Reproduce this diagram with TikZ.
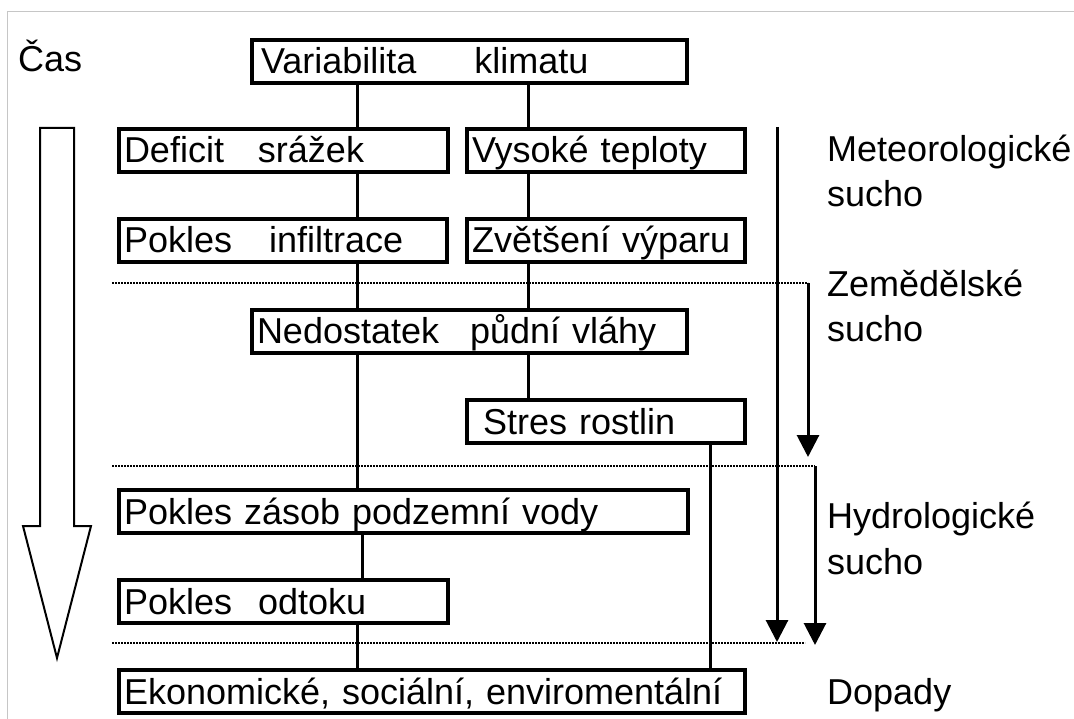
\documentclass[tikz,border=0pt]{standalone}
\usepackage{fontspec}
\setmainfont{Liberation Sans}
\usetikzlibrary{arrows.meta,positioning}
\newcommand{\bigtxt}{\fontsize{36}{45}\selectfont}
\tikzset{
  box/.style={draw,line width=4pt,anchor=west,align=left,inner xsep=5pt,inner ysep=0pt,
    minimum height=43pt,text height=25pt,text depth=0pt,font=\bigtxt},
  con/.style={line width=3pt},
  sep/.style={line width=2.2pt,dash pattern=on 1.6pt off 1.4pt},
  ar/.style={-{Triangle[length=22pt,width=22pt]},line width=3pt},
  lab/.style={anchor=base west,inner sep=0pt,font=\bigtxt}
}
\begin{document}
\begin{tikzpicture}[x=1pt,y=-1pt]
\useasboundingbox (0,0) rectangle (1074,719);
\draw[gray!45,line width=1.5pt] (1074,11.5) -- (7.5,11.5) -- (7.5,719);
% boxes
\node[box,text width=425pt] (var) at (250,61.5) {\hspace*{4pt}Variabilita\hspace{58pt}klimatu};
\node[box,text width=319pt] (def) at (117,150.5) {Deficit\hspace{34pt}srážek};
\node[box,text width=268pt] (vys) at (465,150.5) {Vysoké teploty};
\node[box,text width=318pt] (pinf) at (117,240.5) {Pokles\hspace{37pt}infiltrace};
\node[box,text width=268pt] (zvet) at (465,240.5) {Zvětšení výparu};
\node[box,text width=425pt] (ned) at (250,331.5) {Nedostatek\hspace{31pt}půdní vláhy};
\node[box,text width=268pt] (stres) at (465,421.5) {\hspace*{11pt}Stres rostlin};
\node[box,text width=559pt] (pzas) at (117,511.5) {Pokles zásob podzemní vody};
\node[box,text width=319pt] (podt) at (117,601.5) {Pokles\hspace{26pt}odtoku};
\node[box,text width=616pt] (eko) at (117,691.5) {Ekonomické, sociální, enviromentální};
% lanes
\coordinate (la) at (357,0);
\coordinate (lb) at (528,0);
\coordinate (lc) at (362,0);
\coordinate (ld) at (710,0);
\draw[con] (la |- var.south) -- (la |- def.north);
\draw[con] (lb |- var.south) -- (lb |- vys.north);
\draw[con] (la |- def.south) -- (la |- pinf.north);
\draw[con] (lb |- vys.south) -- (lb |- zvet.north);
\draw[con] (la |- pinf.south) -- (la |- ned.north);
\draw[con] (lb |- zvet.south) -- (lb |- ned.north);
\draw[con] (la |- ned.south) -- (la |- pzas.north);
\draw[con] (lb |- ned.south) -- (lb |- stres.north);
\draw[con] (lc |- pzas.south) -- (lc |- podt.north);
\draw[con] (la |- podt.south) -- (la |- eko.north);
\draw[con] (ld |- stres.south) -- (ld |- eko.north);
% dotted limits
\coordinate (agtop) at (808,283);
\coordinate (hytop) at (815,466);
\draw[sep] (112,283) -- (agtop);
\draw[sep] (112,466) -- (hytop);
\draw[sep] (112,643) -- (805,643);
% phase arrows
\draw[ar] (777,127) -- (777,642);
\draw[ar] (agtop) -- (808,457);
\draw[ar] (hytop) -- (815,645);
% time arrow
\draw[line width=2pt] (40,128) -- (74,128) -- (74,526) -- (91,526) -- (57,658)
  -- (23,526) -- (40,526) -- cycle;
\node[lab] (cas) at (18,72) {Čas};
% labels
\node[lab] (met1) at (827,162) {Meteorologické};
\node[lab] (met2) at (827,207) {sucho};
\node[lab] (zem1) at (827,297) {Zemědělské};
\node[lab] (zem2) at (827,342) {sucho};
\node[lab] (hyd1) at (827,528) {Hydrologické};
\node[lab] (hyd2) at (827,574) {sucho};
\node[lab] (dop) at (827,704) {Dopady};
\end{tikzpicture}
\end{document}
